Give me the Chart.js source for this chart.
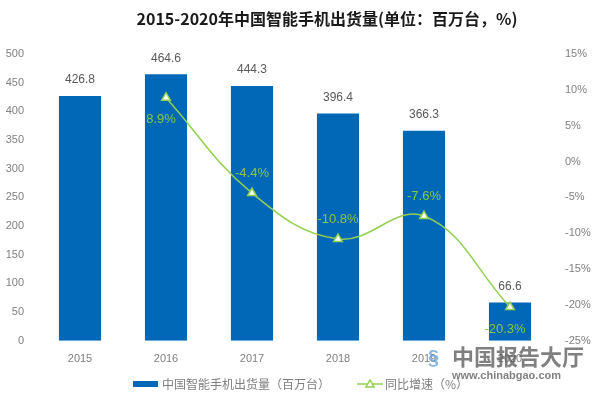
<!DOCTYPE html>
<html>
<head>
<meta charset="utf-8">
<script src="https://cdn.jsdelivr.net/npm/chart.js@4"></script>
<style>
html,body{margin:0;padding:0;background:#fff;}
#wrap{position:relative;width:600px;height:400px;}
</style>
</head>
<body>
<div id="wrap"><canvas id="c" width="600" height="400"></canvas></div>
<script>
const years = ['2015','2016','2017','2018','2019','2020'];
const shipments = [426.8, 464.6, 444.3, 396.4, 366.3, 66.6];
const growth = [null, 8.9, -4.4, -10.8, -7.6, -20.3];
const leftTicks = [0, 50, 100, 150, 200, 250, 300, 350, 400, 450, 500];
const rightTicks = [-25, -20, -15, -10, -5, 0, 5, 10, 15];
const titleText = '2015-2020年中国智能手机出货量(单位：百万台，%)';
const barName = '中国智能手机出货量（百万台）';
const lineName = '同比增速（%）';

const BLUE = '#0068b7';
const GREEN = '#92d050';
const LABEL_GREEN = '#8cc63f';
const CJK = '"Noto Sans CJK SC", "Noto Sans", sans-serif';
const LAT = 'Arial, "Liberation Sans", sans-serif';

// label placement for the growth labels: below for the first and last point
const growthLabelBelow = [false, true, false, false, false, true];

const overlay = {
  id: 'overlay',
  afterDatasetsDraw(chart) {
    const ctx = chart.ctx;
    ctx.save();
    const barMeta = chart.getDatasetMeta(0);
    ctx.font = '12px ' + LAT;
    ctx.fillStyle = '#595959';
    ctx.textAlign = 'center';
    ctx.textBaseline = 'middle';
    barMeta.data.forEach((el, i) => {
      ctx.fillText(shipments[i].toFixed(1), el.x, el.y - 16);
    });
    const lineMeta = chart.getDatasetMeta(1);
    ctx.font = '13px ' + LAT;
    ctx.fillStyle = LABEL_GREEN;
    lineMeta.data.forEach((el, i) => {
      if (growth[i] === null) return;
      const below = growthLabelBelow[i];
      ctx.fillText(growth[i].toFixed(1) + '%', el.x - (below ? 5 : 0), el.y + (below ? 22 : -20));
    });
    ctx.restore();
  },
  afterDraw(chart) {
    const ctx = chart.ctx;
    ctx.save();
    ctx.font = 'bold 16px ' + CJK;
    ctx.fillStyle = '#1a1a1a';
    ctx.textAlign = 'center';
    ctx.textBaseline = 'middle';
    ctx.fillText(titleText, 327, 19);
    const ly = 384;
    ctx.fillStyle = BLUE;
    ctx.fillRect(133, ly - 3, 25, 6);
    ctx.font = '12px ' + CJK;
    ctx.fillStyle = '#7f7f7f';
    ctx.textAlign = 'left';
    ctx.fillText(barName, 162, ly);
    ctx.strokeStyle = GREEN;
    ctx.lineWidth = 1.5;
    ctx.beginPath();
    ctx.moveTo(357, ly);
    ctx.lineTo(383, ly);
    ctx.stroke();
    ctx.fillStyle = '#fff';
    ctx.beginPath();
    ctx.moveTo(370, ly - 4);
    ctx.lineTo(374, ly + 3);
    ctx.lineTo(366, ly + 3);
    ctx.closePath();
    ctx.fill();
    ctx.stroke();
    ctx.fillStyle = '#7f7f7f';
    ctx.fillText(lineName, 385, ly);
    ctx.globalAlpha = 0.75;
    ctx.font = 'bold 22px ' + CJK;
    ctx.fillStyle = '#555';
    ctx.fillText('中国报告大厅', 452, 357);
    ctx.font = 'bold 11px ' + LAT;
    ctx.fillText('www.chinabgao.com', 452, 376);
    ctx.fillStyle = '#5b9bd5';
    ctx.font = 'bold 20px ' + LAT;
    ctx.fillText('§', 428, 358);
    ctx.restore();
  }
};

new Chart(document.getElementById('c'), {
  data: {
    labels: years,
    datasets: [
      {
        type: 'bar',
        label: barName,
        data: shipments,
        backgroundColor: BLUE,
        borderWidth: 0,
        yAxisID: 'y',
        barPercentage: 0.49,
        categoryPercentage: 1.0,
        order: 2
      },
      {
        type: 'line',
        label: lineName,
        data: growth,
        borderColor: GREEN,
        borderWidth: 1.5,
        tension: 0.4,
        spanGaps: true,
        pointStyle: 'triangle',
        pointRadius: 5,
        pointBackgroundColor: '#fff',
        pointBorderColor: GREEN,
        pointBorderWidth: 1.5,
        yAxisID: 'y1',
        order: 1
      }
    ]
  },
  options: {
    responsive: false,
    animation: false,
    layout: { padding: { top: 54, bottom: 30, left: 0, right: 0 } },
    plugins: {
      legend: { display: false },
      tooltip: { enabled: false }
    },
    scales: {
      x: {
        offset: true,
        grid: { display: false },
        border: { display: false },
        ticks: { color: '#808080', font: { size: 11, family: LAT }, padding: 4 }
      },
      y: {
        position: 'left',
        min: 0, max: 500,
        afterBuildTicks(scale) { scale.ticks = leftTicks.map(v => ({ value: v })); },
        afterFit(scale) { scale.width = 37; },
        grid: { display: false },
        border: { display: false },
        ticks: { color: '#808080', font: { size: 11, family: LAT }, padding: 5 }
      },
      y1: {
        position: 'right',
        min: -25, max: 15,
        afterBuildTicks(scale) { scale.ticks = rightTicks.map(v => ({ value: v })); },
        afterFit(scale) { scale.width = 47; },
        grid: { display: false },
        border: { display: false },
        ticks: { color: '#808080', font: { size: 11, family: LAT }, padding: 4, callback: v => v + '%' }
      }
    }
  },
  plugins: [overlay]
});
</script>
</body>
</html>
